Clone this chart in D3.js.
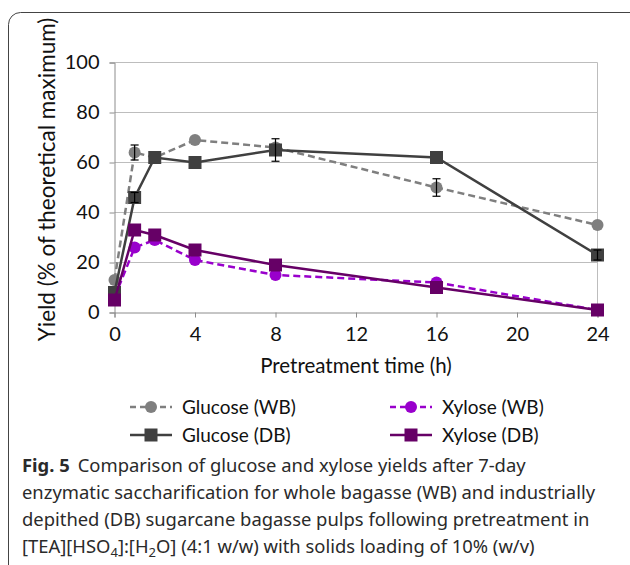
<!DOCTYPE html>
<html>
<head>
<meta charset="utf-8">
<script src="https://cdn.jsdelivr.net/npm/d3@7"></script>
<style>
  body { margin: 0; background: #fff; }
  svg { display: block; }
</style>
</head>
<body>
<svg id="chart" width="630" height="565"></svg>
<script>
// data
const hours = [0, 1, 2, 4, 8, 16, 24]
const glucoseWB = [13, 64, 62, 69, 66, 50, 35]
const glucoseDB = [8, 46, 62, 60, 65, 62, 23]
const xyloseWB = [6, 26, 29, 21, 15, 12, 1]
const xyloseDB = [5, 33, 31, 25, 19, 10, 1]
const glucoseWBErr = [0, 3, 0, 0, 0, 3.5, 0]
const glucoseDBErr = [0, 2, 0, 0, 4.5, 0, 2]
const xTicks = [0, 4, 8, 12, 16, 20, 24]
const yTicks = [0, 20, 40, 60, 80, 100]

const captionLines = [
  'enzymatic saccharification for whole bagasse (WB) and industrially',
  'depithed (DB) sugarcane bagasse pulps following pretreatment in'
]

const font = 'Lato, "Open Sans", sans-serif'
const capFont = '"Noto Sans", "Open Sans", sans-serif'

const svg = d3.select('#chart')

// frame round the figure (runs off the right and bottom)
svg.append('rect')
  .attr('x', 8.5).attr('y', 12.5)
  .attr('width', 660).attr('height', 600)
  .attr('rx', 12)
  .attr('fill', 'none').attr('stroke', '#444').attr('stroke-width', 1)

const x = d3.scaleLinear().domain([0, 24]).range([114.5, 597.5])
const y = d3.scaleLinear().domain([0, 100]).range([312.5, 62.5])

// grid
svg.append('g').selectAll('line').data(yTicks.slice(1)).join('line')
  .attr('x1', x(0)).attr('x2', x(24))
  .attr('y1', d => y(d)).attr('y2', d => y(d))
  .attr('stroke', '#bdbdbd').attr('stroke-width', 1)
svg.append('line')
  .attr('x1', x(24)).attr('x2', x(24)).attr('y1', y(0)).attr('y2', y(100))
  .attr('stroke', '#bdbdbd')

// axes
const xAxis = svg.append('g')
  .attr('transform', `translate(0,${y(0)})`)
  .call(d3.axisBottom(x).tickValues(xTicks).tickSize(5).tickPadding(9))
const yAxis = svg.append('g')
  .attr('transform', `translate(${x(0)},0)`)
  .call(d3.axisLeft(y).tickValues(yTicks).tickSize(5).tickPadding(10))
for (const g of [xAxis, yAxis]) {
  g.select('.domain').attr('stroke', '#8c8c8c')
  g.selectAll('.tick line').attr('stroke', '#8c8c8c')
  g.selectAll('.tick text')
    .attr('fill', '#111').style('font-family', font).style('font-size', '20px')
}

svg.append('text')
  .attr('x', x(12)).attr('y', 373)
  .attr('text-anchor', 'middle')
  .style('font-family', font).style('font-size', '20.5px').attr('fill', '#111')
  .text('Pretreatment time (h)')
svg.append('text')
  .attr('transform', `translate(55,${y(50) - 8}) rotate(-90)`)
  .attr('text-anchor', 'middle')
  .style('font-family', font).style('font-size', '22.5px').attr('fill', '#111')
  .text('Yield (% of theoretical maximum)')

const series = [
  {name: 'Glucose (WB)', values: glucoseWB, err: glucoseWBErr, color: '#7f7f7f', dash: '7,4', shape: 'circle'},
  {name: 'Xylose (WB)', values: xyloseWB, err: null, color: '#9900cc', dash: '7,4', shape: 'circle'},
  {name: 'Glucose (DB)', values: glucoseDB, err: glucoseDBErr, color: '#404040', dash: null, shape: 'square'},
  {name: 'Xylose (DB)', values: xyloseDB, err: null, color: '#660066', dash: null, shape: 'square'}
]

const line = d3.line().x(d => x(d[0])).y(d => y(d[1]))

function drawMarker (g, shape, color, cx, cy) {
  if (shape === 'circle') {
    g.append('circle').attr('cx', cx).attr('cy', cy).attr('r', 6).attr('fill', color)
  } else {
    g.append('rect').attr('x', cx - 6.5).attr('y', cy - 6.5)
      .attr('width', 13).attr('height', 13).attr('fill', color)
  }
}

const plot = svg.append('g')
series.forEach(s => {
  const pts = hours.map((h, i) => [h, s.values[i]])
  plot.append('path').datum(pts)
    .attr('d', line).attr('fill', 'none')
    .attr('stroke', s.color).attr('stroke-width', 2.5)
    .attr('stroke-dasharray', s.dash)
  pts.forEach(p => drawMarker(plot, s.shape, s.color, x(p[0]), y(p[1])))
  if (s.err) {
    pts.forEach((p, i) => {
      const e = s.err[i]
      if (!e) return
      const eg = plot.append('g').attr('stroke', '#000').attr('stroke-width', 1.2)
      eg.append('line').attr('x1', x(p[0])).attr('x2', x(p[0]))
        .attr('y1', y(p[1] + e)).attr('y2', y(p[1] - e))
      for (const v of [p[1] + e, p[1] - e]) {
        eg.append('line').attr('x1', x(p[0]) - 4).attr('x2', x(p[0]) + 4)
          .attr('y1', y(v)).attr('y2', y(v))
      }
    })
  }
})

// legend
const legendPos = [[130, 407], [390, 407], [130, 435], [390, 435]]
series.forEach((s, i) => {
  const [lx, ly] = legendPos[i]
  const g = svg.append('g')
  g.append('line').attr('x1', lx).attr('x2', lx + 42).attr('y1', ly).attr('y2', ly)
    .attr('stroke', s.color).attr('stroke-width', 2.5)
    .attr('stroke-dasharray', s.dash ? '6,4' : null)
  drawMarker(g, s.shape, s.color, lx + 21, ly)
  g.append('text').attr('x', lx + 52).attr('y', ly + 7)
    .style('font-family', font).style('font-size', '19px').attr('fill', '#111')
    .text(s.name)
})

// caption
const cap = svg.append('g').style('font-family', capFont).style('font-size', '18.4px').attr('fill', '#2a2a2a')
const t1 = cap.append('text').attr('x', 22).attr('y', 472)
t1.append('tspan').style('font-weight', 'bold').text('Fig. 5')
t1.append('tspan').attr('dx', 8).text('Comparison of glucose and xylose yields after 7-day')
captionLines.forEach((l, i) => {
  cap.append('text').attr('x', 22).attr('y', 499 + i * 27).text(l)
})
const t4 = cap.append('text').attr('x', 22).attr('y', 553)
t4.append('tspan').text('[TEA][HSO')
t4.append('tspan').attr('dy', 4).style('font-size', '13px').text('4')
t4.append('tspan').attr('dy', -4).text(']:[H')
t4.append('tspan').attr('dy', 4).style('font-size', '13px').text('2')
t4.append('tspan').attr('dy', -4).text('O] (4:1 w/w) with solids loading of 10% (w/v)')
</script>
</body>
</html>
